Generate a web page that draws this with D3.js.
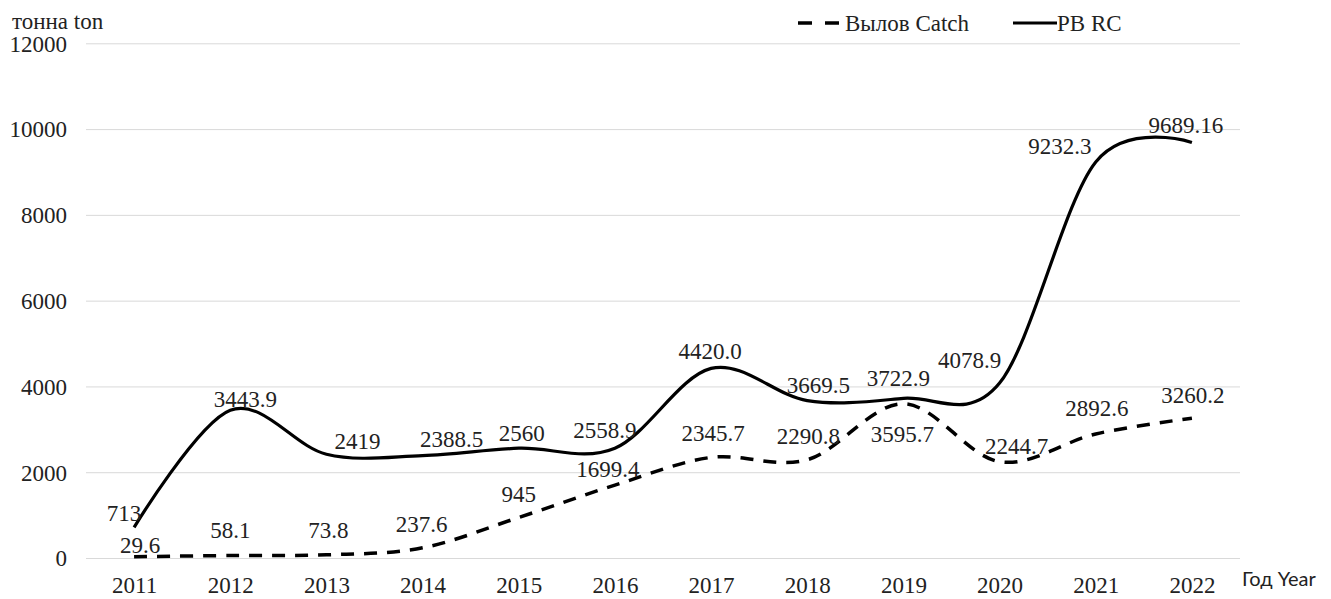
<!DOCTYPE html>
<html>
<head>
<meta charset="utf-8">
<script src="https://cdn.jsdelivr.net/npm/d3@7"></script>
</head>
<body style="margin:0">
<svg id="chart" width="1331" height="599"></svg>
<script>
// data
const years = ['2011', '2012', '2013', '2014', '2015', '2016', '2017', '2018', '2019', '2020', '2021', '2022'];
const rcValues = [713, 3443.9, 2419, 2388.5, 2560, 2558.9, 4420.0, 3669.5, 3722.9, 4078.9, 9232.3, 9689.16];
const catchValues = [29.6, 58.1, 73.8, 237.6, 945, 1699.4, 2345.7, 2290.8, 3595.7, 2244.7, 2892.6, 3260.2];
const rcLabels = ['713', '3443.9', '2419', '2388.5', '2560', '2558.9', '4420.0', '3669.5', '3722.9', '4078.9', '9232.3', '9689.16'];
const catchLabels = ['29.6', '58.1', '73.8', '237.6', '945', '1699.4', '2345.7', '2290.8', '3595.7', '2244.7', '2892.6', '3260.2'];
const yTicks = [0, 2000, 4000, 6000, 8000, 10000, 12000];

// label nudges (px, relative to each point) – layout only
const rcNudge = [[-10, -14], [15, -11], [31, -13], [29, -16], [3, -15], [-10, -18], [-1, -17], [11, -15], [-5, -20], [-30, -23], [-36, -16], [-6, -17]];
const catchNudge = [[6, -12], [0, -25], [2, -25], [-1, -24], [0, -23], [-7, -16], [2, -24], [1, -24], [-1, 30], [17, -16], [1, -26], [1, -23]];

const fontSize = '23px';
const fontSerif = 'Liberation Serif';
const textCol = '#222';

const svg = d3.select('#chart');

// scales
const x = d3.scalePoint().domain(years).range([86, 1240]).padding(0.5);
const y = d3.scaleLinear().domain([0, 12000]).range([558, 43.3]);

// gridlines + y tick labels
const yAxis = d3.axisLeft(y)
  .tickValues(yTicks)
  .tickSizeInner(-(1240 - 86))
  .tickSizeOuter(0)
  .tickPadding(19)
  .tickFormat(d3.format('d'));

const gY = svg.append('g')
  .attr('transform', 'translate(86,0)')
  .call(yAxis);
gY.select('.domain').remove();
gY.selectAll('line').attr('stroke', '#d9d9d9').attr('stroke-width', 1);
gY.selectAll('text')
  .style('font-family', fontSerif)
  .style('font-size', fontSize)
  .style('fill', textCol)
  .attr('dy', '0.34em');

// x tick labels
const xAxis = d3.axisBottom(x).tickSize(0).tickPadding(19);
const gX = svg.append('g')
  .attr('transform', 'translate(0,558)')
  .call(xAxis);
gX.select('.domain').remove();
gX.selectAll('text')
  .style('font-family', fontSerif)
  .style('font-size', fontSize)
  .style('fill', textCol);

// lines
const line = d3.line()
  .x((d, i) => x(years[i]))
  .y(d => y(d))
  .curve(d3.curveCardinal.tension(0));

svg.append('path')
  .datum(catchValues)
  .attr('d', line)
  .attr('fill', 'none')
  .attr('stroke', '#000')
  .attr('stroke-width', 3.5)
  .attr('stroke-dasharray', '13,10');

svg.append('path')
  .datum(rcValues)
  .attr('d', line)
  .attr('fill', 'none')
  .attr('stroke', '#000')
  .attr('stroke-width', 3.2);

// data labels
function drawLabels(values, labels, nudge, cls) {
  svg.selectAll('text.' + cls)
    .data(values)
    .enter()
    .append('text')
    .attr('class', cls)
    .attr('x', (d, i) => x(years[i]) + nudge[i][0])
    .attr('y', (d, i) => y(d) + nudge[i][1])
    .attr('dy', '0.34em')
    .style('text-anchor', 'middle')
    .style('font-family', fontSerif)
    .style('font-size', fontSize)
    .style('fill', textCol)
    .text((d, i) => labels[i]);
}
drawLabels(catchValues, catchLabels, catchNudge, 'catchLabel');
drawLabels(rcValues, rcLabels, rcNudge, 'rcLabel');

// axis titles
svg.append('text')
  .attr('x', 12).attr('y', 29)
  .style('font-family', fontSerif)
  .style('font-size', fontSize)
  .style('fill', textCol)
  .text('тонна ton');

svg.append('text')
  .attr('x', 1242).attr('y', 586)
  .style('font-family', 'Lato')
  .style('font-size', '20px')
  .style('fill', textCol)
  .text('Год Year');

// legend
const legend = svg.append('g').attr('class', 'legend');
legend.append('line')
  .attr('x1', 798).attr('x2', 840).attr('y1', 23).attr('y2', 23)
  .attr('stroke', '#000').attr('stroke-width', 3.5)
  .attr('stroke-dasharray', '14,13');
legend.append('text')
  .attr('x', 845).attr('y', 31)
  .style('font-family', fontSerif)
  .style('font-size', fontSize)
  .style('fill', textCol)
  .text('Вылов Catch');
legend.append('line')
  .attr('x1', 1013).attr('x2', 1057).attr('y1', 23).attr('y2', 23)
  .attr('stroke', '#000').attr('stroke-width', 3.2);
legend.append('text')
  .attr('x', 1057).attr('y', 31)
  .style('font-family', fontSerif)
  .style('font-size', fontSize)
  .style('fill', textCol)
  .text('РВ  RC');
</script>
</body>
</html>
